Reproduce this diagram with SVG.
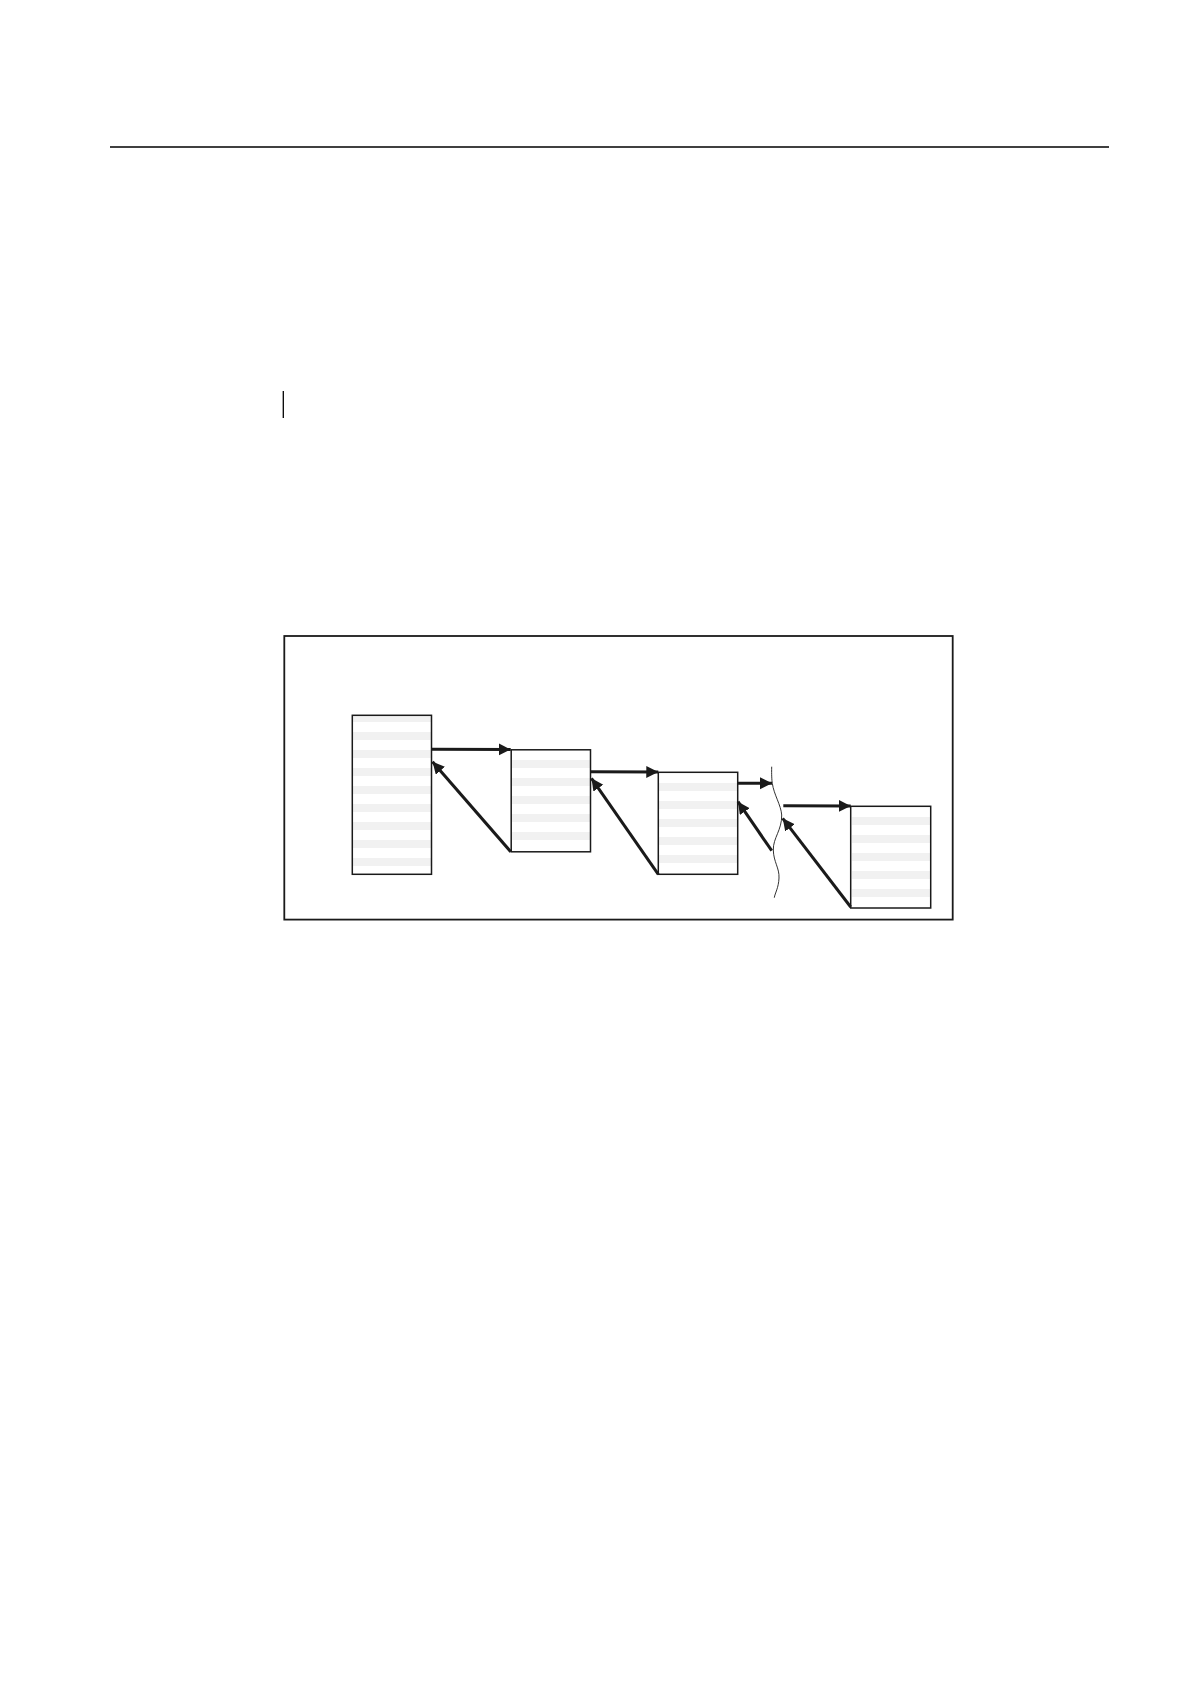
<svg xmlns="http://www.w3.org/2000/svg" width="1190" height="1684" viewBox="0 0 1190 1684">
<style>
.frame{fill:none;stroke:#1a1a1a;stroke-width:1.8}
.box{fill:none;stroke:#1a1a1a;stroke-width:1.5}
.stripe{fill:#f1f1f1;stroke:none}
.arr{fill:none;stroke:#1a1a1a;stroke-width:3}
.brk{fill:none;stroke:#1a1a1a;stroke-width:0.9}
.rule{stroke:#000;stroke-width:1.3}
</style>
<defs>
<marker id="ah" markerUnits="userSpaceOnUse" markerWidth="13" markerHeight="13" refX="12" refY="6" orient="auto">
<path d="M0,0 L12,6 L0,12 z" fill="#1a1a1a"/>
</marker>
</defs>
<rect width="1190" height="1684" fill="#fff"/>
<line class="rule" x1="110" y1="147" x2="1109" y2="147"/>
<line class="rule" x1="283.3" y1="391" x2="283.3" y2="418"/>
<rect class="frame" x="284.3" y="636" width="668.4" height="283.6"/>
<g id="node1">
<rect class="stripe" x="353" y="716" width="78" height="6"/>
<rect class="stripe" x="353" y="732" width="78" height="8"/>
<rect class="stripe" x="353" y="750" width="78" height="8"/>
<rect class="stripe" x="353" y="768" width="78" height="8"/>
<rect class="stripe" x="353" y="786" width="78" height="8"/>
<rect class="stripe" x="353" y="804" width="78" height="8"/>
<rect class="stripe" x="353" y="822" width="78" height="8"/>
<rect class="stripe" x="353" y="840" width="78" height="8"/>
<rect class="stripe" x="353" y="858" width="78" height="8"/>
<rect class="box" x="352.3" y="715.3" width="79.2" height="159"/>
</g>
<g id="node2">
<rect class="stripe" x="512" y="760" width="78" height="8"/>
<rect class="stripe" x="512" y="778" width="78" height="8"/>
<rect class="stripe" x="512" y="796" width="78" height="8"/>
<rect class="stripe" x="512" y="814" width="78" height="8"/>
<rect class="stripe" x="512" y="832" width="78" height="8"/>
<rect class="box" x="511.2" y="749.8" width="79.3" height="102"/>
</g>
<g id="node3">
<rect class="stripe" x="659" y="783" width="78" height="8"/>
<rect class="stripe" x="659" y="801" width="78" height="8"/>
<rect class="stripe" x="659" y="819" width="78" height="8"/>
<rect class="stripe" x="659" y="837" width="78" height="8"/>
<rect class="stripe" x="659" y="855" width="78" height="8"/>
<rect class="box" x="658.3" y="772.3" width="79.4" height="102"/>
</g>
<g id="node4">
<rect class="stripe" x="852" y="817" width="78" height="8"/>
<rect class="stripe" x="852" y="835" width="78" height="8"/>
<rect class="stripe" x="852" y="853" width="78" height="8"/>
<rect class="stripe" x="852" y="871" width="78" height="8"/>
<rect class="stripe" x="852" y="889" width="78" height="8"/>
<rect class="box" x="850.7" y="806.3" width="80" height="101.7"/>
</g>
<g id="break">
<path class="brk" d="M771.7,766.7 C771.5,775 771.8,780 772.3,783.3 C774,795 781,805 781.7,815 C782,830 773,838 773.3,850 C773.6,862 779.5,868 779,878 C778.6,888 775,893 774.3,897.7"/>
</g>
<g id="connectors">
<line class="arr" x1="431.7" y1="749.3" x2="510.7" y2="749.5" marker-end="url(#ah)"/>
<line class="arr" x1="590.7" y1="771.7" x2="658.3" y2="772.1" marker-end="url(#ah)"/>
<line class="arr" x1="737.7" y1="783.3" x2="772" y2="783.3" marker-end="url(#ah)"/>
<line class="arr" x1="783.3" y1="805.7" x2="850.7" y2="806" marker-end="url(#ah)"/>
<line class="arr" x1="510.7" y1="851.7" x2="432.5" y2="761.7" marker-end="url(#ah)"/>
<line class="arr" x1="658.3" y1="874.3" x2="591.5" y2="778.3" marker-end="url(#ah)"/>
<line class="arr" x1="771.7" y1="850.7" x2="738" y2="801.7" marker-end="url(#ah)"/>
<line class="arr" x1="850.7" y1="907" x2="782.7" y2="818.3" marker-end="url(#ah)"/>
</g>
</svg>
